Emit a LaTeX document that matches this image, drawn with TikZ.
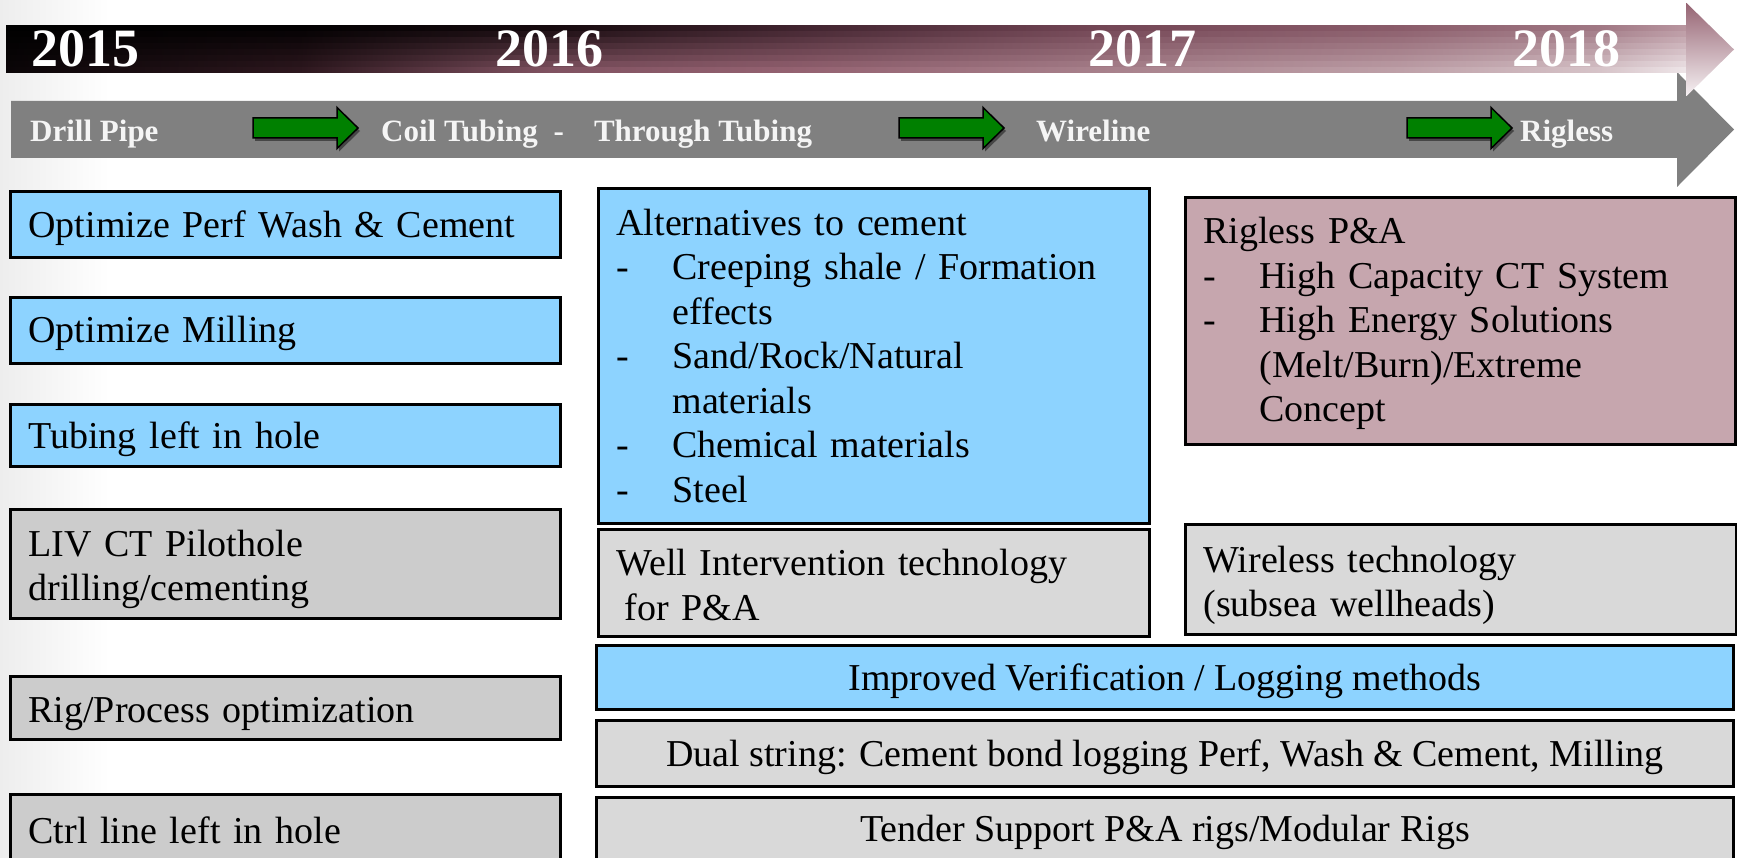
\documentclass[tikz,border=0pt]{standalone}
\usepackage{fontspec}
\setmainfont{Liberation Serif}
\usetikzlibrary{shadows}

\definecolor{boxblue}{RGB}{141,211,255}
\definecolor{boxgrayA}{RGB}{204,204,204}
\definecolor{boxgrayB}{RGB}{217,217,217}
\definecolor{boxmauve}{RGB}{198,166,174}
\definecolor{bandgray}{RGB}{128,128,128}
\definecolor{arrowgreen}{RGB}{0,128,0}
\definecolor{hdrtext}{RGB}{245,245,245}
% top edge colours of the timeline bar
\definecolor{T0}{RGB}{0,0,0}
\definecolor{T1}{RGB}{3,1,2}
\definecolor{T2}{RGB}{22,10,14}
\definecolor{T3}{RGB}{65,36,47}
\definecolor{T4}{RGB}{115,70,85}
\definecolor{T5}{RGB}{138,92,106}
\definecolor{T6}{RGB}{160,120,132}
\definecolor{T7}{RGB}{185,150,160}
% bottom edge colours of the timeline bar
\definecolor{B0}{RGB}{10,5,7}
\definecolor{B1}{RGB}{45,23,30}
\definecolor{B2}{RGB}{128,82,97}
\definecolor{B3}{RGB}{148,98,113}
\definecolor{B4}{RGB}{167,128,139}
\definecolor{B5}{RGB}{190,160,168}
\definecolor{B6}{RGB}{214,195,200}
\definecolor{B7}{RGB}{238,229,232}

\newcommand\declstrip[2]{%
\pgfdeclarehorizontalshading{#1}{100bp}{color(0bp)=(T0!#2!B0); color(25bp)=(T0!#2!B0); color(33.74bp)=(T1!#2!B1); color(41.18bp)=(T2!#2!B2); color(48.62bp)=(T3!#2!B3); color(57.54bp)=(T4!#2!B4); color(66.47bp)=(T5!#2!B5); color(72.41bp)=(T6!#2!B6); color(75bp)=(T7!#2!B7); color(100bp)=(T7!#2!B7)}}
\declstrip{barA}{100}
\declstrip{barB}{86}
\declstrip{barC}{71}
\declstrip{barD}{57}
\declstrip{barE}{43}
\declstrip{barF}{29}
\declstrip{barG}{14}
\declstrip{barH}{0}

\newcommand\bodyfont{\fontsize{38}{44.5}\selectfont}
\newcommand\yearfont{\fontsize{54}{60}\selectfont\bfseries}
\newcommand\techfont{\fontsize{31}{36}\selectfont\bfseries}
\newcommand\dashitem{\makebox[56pt][l]{-}}
\newcommand\contitem{\hspace*{56pt}}

\tikzset{
  box/.style={draw=black, line width=3pt, anchor=north west, inner xsep=18pt,
    inner ysep=0pt, align=left, font=\bodyfont},
  wbox/.style={draw=black, line width=3pt, anchor=north west, inner sep=0pt,
    align=center, font=\bodyfont},
  lift/.style={execute at begin node={\rule{0pt}{#1}}},
  yearlbl/.style={anchor=base west, inner sep=0pt, text=white, font=\yearfont},
  techlbl/.style={anchor=base west, inner sep=0pt, text=hdrtext, font=\techfont},
  garrowline/.style={fill=arrowgreen, draw=black, line width=1.5pt, line join=miter,
    drop shadow={shadow xshift=2pt, shadow yshift=-3pt, opacity=0.45, fill=black}},
  garrow/.pic={\path[garrowline] (0,-10) -- (84,-10) -- (84,-20.5) -- (105,0)
    -- (84,20.5) -- (84,10) -- (0,10) -- cycle;}
}

\begin{document}
\begin{tikzpicture}[x=1pt,y=-1pt]
\useasboundingbox (0,0) rectangle (1737,858);
\clip (0,0) rectangle (1737,858);
\fill[white] (0,0) rectangle (1737,858);
\fill[left color=black!7, right color=white] (0,0) rectangle (110,858);

% technology band (grey arrow)
\fill[bandgray] (11,101) -- (1677,101) -- (1677,72) -- (1734,129.5)
  -- (1677,187) -- (1677,158) -- (11,158) -- cycle;

% timeline arrow (gradient)
\path[shading=barA] (6,26) rectangle (1687,32.4);
\path[shading=barB] (6,31.875) rectangle (1687,38.25);
\path[shading=barC] (6,37.75) rectangle (1687,44.1);
\path[shading=barD] (6,43.625) rectangle (1687,50);
\path[shading=barE] (6,49.5) rectangle (1687,55.9);
\path[shading=barF] (6,55.375) rectangle (1687,61.75);
\path[shading=barG] (6,61.25) rectangle (1687,67.6);
\path[shading=barH] (6,67.125) rectangle (1687,73);
\path[top color={rgb,255:red,150;green,100;blue,115},
      middle color={rgb,255:red,195;green,160;blue,170},
      bottom color={rgb,255:red,246;green,241;blue,243}]
  (1686.5,3) -- (1734,49.5) -- (1686.5,96) -- cycle;

% years
\node[yearlbl] (y2015) at (31,67) {2015};
\node[yearlbl] (y2016) at (495,67) {2016};
\node[yearlbl] (y2017) at (1088,67) {2017};
\node[yearlbl] (y2018) at (1512,67) {2018};

% technologies
\node[techlbl] (drill) at (30,142) {Drill Pipe};
\node[techlbl] (coil) at (381,142) {Coil Tubing\hspace{16pt}-\hspace{30pt}Through Tubing};
\node[techlbl] (wire) at (1036,142) {Wireline};
\node[techlbl] (rigl) at (1520,142) {Rigless};
\pic at (253,128) {garrow};
\pic at (899,128) {garrow};
\pic at (1407,128) {garrow};

% left column
\node[box, lift=35pt, fill=boxblue, text width=514pt, minimum height=66pt] (optperf) at (9,190)
  {Optimize Perf Wash \& Cement};
\node[box, lift=33pt, fill=boxblue, text width=514pt, minimum height=66pt] (optmill) at (9,296)
  {Optimize Milling};
\node[box, lift=35pt, fill=boxblue, text width=514pt, minimum height=62pt] (tubing) at (9,403)
  {Tubing left in hole};
\node[box, lift=37pt, fill=boxgrayA, text width=514pt, minimum height=109pt] (liv) at (9,508)
  {LIV CT Pilothole\\drilling/cementing};
\node[box, lift=37pt, fill=boxgrayA, text width=514pt, minimum height=63pt] (rigproc) at (9,675)
  {Rig/Process optimization};
\node[box, fill=boxgrayA, text width=514pt, minimum height=72pt] (ctrl) at (9,793)
  {Ctrl line left in hole};

% middle column
\node[box, fill=boxblue, text width=515pt, minimum height=335pt] (alt) at (597,187)
  {Alternatives to cement\\
   \dashitem Creeping shale / Formation\\
   \contitem effects\\
   \dashitem Sand/Rock/Natural\\
   \contitem materials\\
   \dashitem Chemical materials\\
   \dashitem Steel};
\node[box, lift=30pt, fill=boxgrayB, text width=515pt, minimum height=107pt] (wellint) at (597,528)
  {Well Intervention technology\\\hspace*{8pt}for P\&A};

% right column
\node[box, lift=31.5pt, fill=boxmauve, text width=514pt, minimum height=247pt] (rigless) at (1184,196)
  {Rigless P\&A\\
   \dashitem High Capacity CT System\\
   \dashitem High Energy Solutions\\
   \contitem (Melt/Burn)/Extreme\\
   \contitem Concept};
\node[box, lift=38pt, fill=boxgrayB, text width=515pt, minimum height=110pt] (wireless) at (1184,523)
  {Wireless technology\\(subsea wellheads)};

% wide boxes
\node[wbox, lift=35pt, fill=boxblue, minimum width=1137pt, minimum height=64pt] (verif) at (595,644)
  {Improved Verification / Logging methods};
\node[wbox, lift=35pt, fill=boxgrayB, minimum width=1137pt, minimum height=66pt] (dual) at (595,719)
  {Dual string: Cement bond logging Perf, Wash \& Cement, Milling};
\node[wbox, lift=31pt, fill=boxgrayB, minimum width=1137pt, minimum height=66pt] (tender) at (595,796)
  {Tender Support P\&A rigs/Modular Rigs};
\end{tikzpicture}
\end{document}
